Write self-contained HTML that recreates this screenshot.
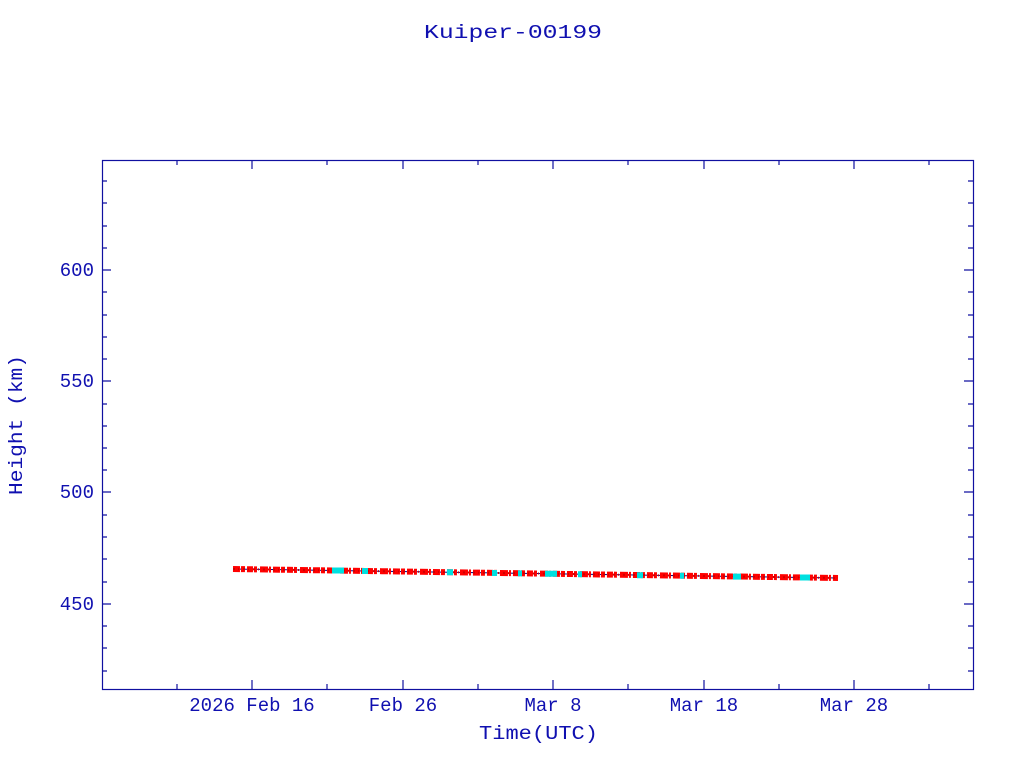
<!DOCTYPE html>
<html><head><style>body{margin:0;background:#fff}svg text{font-family:"Liberation Mono",monospace;fill:#1010b0;font-size:19px}</style></head><body>
<svg width="1024" height="768" xmlns="http://www.w3.org/2000/svg">
<rect width="1024" height="768" fill="#fff"/>
<text x="424" y="38" font-size="25" textLength="178" lengthAdjust="spacingAndGlyphs">Kuiper-00199</text>
<rect x="102.5" y="160.5" width="871" height="529" fill="none" stroke="#1010a0" stroke-width="1.2"/>
<g stroke="#1010a0" stroke-width="1.2">
<path d="M102 270h9M102 381h9M102 492h9M102 604h9M973 270h-9M973 381h-9M973 492h-9M973 604h-9"/>
<path d="M102 181h5M102 203h5M102 226h5M102 248h5M102 292h5M102 315h5M102 337h5M102 359h5M102 404h5M102 426h5M102 448h5M102 470h5M102 515h5M102 537h5M102 559h5M102 582h5M102 626h5M102 648h5M102 671h5
M973 181h-5M973 203h-5M973 226h-5M973 248h-5M973 292h-5M973 315h-5M973 337h-5M973 359h-5M973 404h-5M973 426h-5M973 448h-5M973 470h-5M973 515h-5M973 537h-5M973 559h-5M973 582h-5M973 626h-5M973 648h-5M973 671h-5"/>
<path d="M252 689v-9M403 689v-9M553 689v-9M704 689v-9M854 689v-9M252 160v9M403 160v9M553 160v9M704 160v9M854 160v9"/>
<path d="M177 689v-5M327 689v-5M478 689v-5M628 689v-5M779 689v-5M929 689v-5M177 160v5M327 160v5M478 160v5M628 160v5M779 160v5M929 160v5"/>
</g>
<g text-anchor="end">
<text x="94" y="276">600</text><text x="94" y="387">550</text><text x="94" y="498">500</text><text x="94" y="610">450</text>
</g>
<g text-anchor="middle">
<text x="252" y="711">2026 Feb 16</text><text x="403" y="711">Feb 26</text><text x="553" y="711">Mar  8</text><text x="704" y="711">Mar 18</text><text x="854" y="711">Mar 28</text>
</g>
<text x="479" y="739" font-size="22" textLength="119" lengthAdjust="spacingAndGlyphs">Time(UTC)</text>
<text transform="translate(22 495) rotate(-90)" font-size="21" textLength="140" lengthAdjust="spacingAndGlyphs">Height (km)</text>
<path d="M233 569L838 578" stroke="#000080" stroke-width="1"/>
<path d="M233 569L838 578" stroke="#ff0000" stroke-width="6" stroke-dasharray="7 1 4 2 6 1 3 3 8 1 2 2"/>
<path d="M233 569L838 578" stroke="#cc0000" stroke-width="2" stroke-dasharray="2 3 1 4"/>
<g stroke="#00e0e0" stroke-width="6">
<path d="M332 570.5h12M362 571h6M447 572.3h6M492 573h5M518 573.4h4M545 573.8h12M578 574.3h4M637 575.2h6M680 575.8h4M733 576.6h8M800 577.5h10"/>
</g>
</svg>
</body></html>
